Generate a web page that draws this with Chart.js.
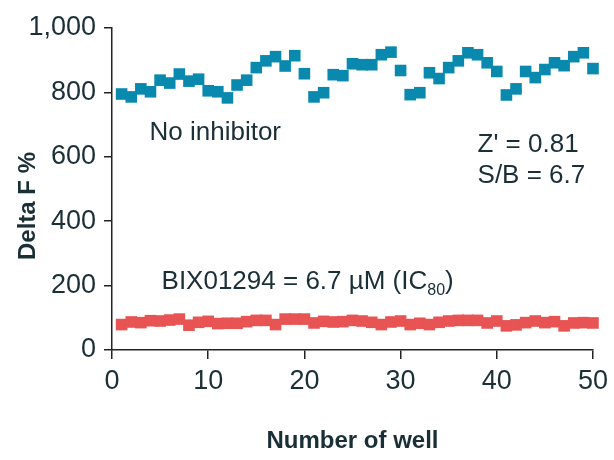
<!DOCTYPE html>
<html>
<head>
<meta charset="utf-8">
<script src="https://cdn.jsdelivr.net/npm/chart.js@4/dist/chart.umd.min.js"></script>
<style>
  html, body { margin: 0; padding: 0; background: #fff; }
  #wrap { width: 614px; height: 460px; }
</style>
</head>
<body>
<div id="wrap"><canvas id="wells"></canvas></div>
<script>
  // well numbers 1..50
  const wells = [
    1, 2, 3, 4, 5, 6, 7, 8, 9, 10, 11, 12, 13, 14, 15, 16, 17, 18, 19, 20,
    21, 22, 23, 24, 25, 26, 27, 28, 29, 30, 31, 32, 33, 34, 35, 36, 37, 38, 39, 40,
    41, 42, 43, 44, 45, 46, 47, 48, 49, 50
  ];
  // Delta F %, no inhibitor
  const noInhibitor = [
    795, 786, 811, 802, 838, 829, 857, 835, 841, 805,
    802, 783, 823, 838, 877, 898, 911, 882, 914, 858,
    786, 799, 855, 852, 889, 886, 886, 917, 925, 868,
    793, 799, 861, 843, 877, 898, 923, 917, 892, 865,
    792, 811, 865, 846, 871, 892, 883, 911, 923, 874
  ];
  // Delta F %, BIX01294 6.7 uM
  const withBIX = [
    79, 87, 85, 91, 90, 93, 96, 77, 86, 89,
    82, 83, 83, 88, 92, 92, 79, 96, 96, 96,
    84, 89, 87, 88, 92, 90, 86, 79, 87, 90,
    79, 83, 79, 86, 90, 92, 92, 92, 84, 90,
    75, 78, 85, 90, 85, 88, 75, 84, 85, 84
  ];
  const xTicks = [0, 10, 20, 30, 40, 50];
  const yTicks = [0, 200, 400, 600, 800, 1000];

  const textColor = "#1b2f36";
  const axisColor = "#222";
  const teal = "#0a89ae";
  const red = "#e85353";
  const fam = "'Liberation Sans', Arial, sans-serif";

  function toPoints(xs, ys) {
    return xs.map((x, i) => ({ x: x, y: ys[i] }));
  }

  // plain text notes placed at data positions, plus the y title
  const notes = {
    id: "notes",
    afterDatasetsDraw(chart) {
      const ctx = chart.ctx;
      const xs = chart.scales.x;
      const ys = chart.scales.y;
      ctx.save();
      ctx.fillStyle = textColor;
      ctx.textBaseline = "middle";
      ctx.textAlign = "left";
      ctx.font = "26px " + fam;
      ctx.fillText("No inhibitor", xs.getPixelForValue(3.9), ys.getPixelForValue(674));
      ctx.fillText("Z' = 0.81", xs.getPixelForValue(38), ys.getPixelForValue(637));
      ctx.fillText("S/B = 6.7", xs.getPixelForValue(38), ys.getPixelForValue(540));
      const bx = xs.getPixelForValue(5.15);
      const by = ys.getPixelForValue(211);
      const main = "BIX01294 = 6.7 \u00b5M (IC";
      ctx.fillText(main, bx, by);
      let w = ctx.measureText(main).width;
      ctx.font = "16px " + fam;
      ctx.fillText("80", bx + w, by + 9);
      w += ctx.measureText("80").width;
      ctx.font = "26px " + fam;
      ctx.fillText(")", bx + w, by);

      ctx.translate(28, 206);
      ctx.rotate(-Math.PI / 2);
      ctx.textAlign = "center";
      ctx.font = "bold 24px " + fam;
      ctx.fillText("Delta F %", 0, 0);
      ctx.restore();
    },
  };

  new Chart(document.getElementById("wells"), {
    type: "scatter",
    data: {
      datasets: [
        {
          label: "No inhibitor",
          data: toPoints(wells, noInhibitor),
          backgroundColor: teal,
          borderWidth: 0,
          pointStyle: "rect",
          pointRadius: 8.2,
          clip: false,
        },
        {
          label: "BIX01294",
          data: toPoints(wells, withBIX),
          backgroundColor: red,
          borderWidth: 0,
          pointStyle: "rect",
          pointRadius: 8.2,
          clip: false,
        },
      ],
    },
    options: {
      responsive: true,
      maintainAspectRatio: false,
      animation: false,
      layout: { padding: { left: 14, right: 17, top: 28, bottom: 4 } },
      plugins: {
        legend: { display: false },
        tooltip: { enabled: false },
      },
      scales: {
        x: {
          type: "linear",
          min: 0,
          max: 50,
          afterBuildTicks: (s) => { s.ticks = xTicks.map((v) => ({ value: v })); },
          afterFit: (s) => { s.height = 106; },
          ticks: {
            color: textColor,
            padding: 6,
            maxRotation: 0,
            font: { family: fam, size: 27 },
          },
          grid: { drawOnChartArea: false, color: axisColor, tickLength: 9, lineWidth: 1.5 },
          border: { color: axisColor, width: 1.5 },
          title: {
            display: true,
            text: "Number of well",
            color: textColor,
            padding: 0,
            font: { family: fam, size: 24, weight: "bold" },
          },
        },
        y: {
          min: 0,
          max: 1000,
          afterBuildTicks: (s) => { s.ticks = yTicks.map((v) => ({ value: v })); },
          afterFit: (s) => { s.width = 98; },
          ticks: {
            color: textColor,
            padding: 8,
            font: { family: fam, size: 27 },
          },
          grid: { drawOnChartArea: false, color: axisColor, tickLength: 8, lineWidth: 1.5 },
          border: { color: axisColor, width: 1.5 },
        },
      },
    },
    plugins: [notes],
  });
</script>
</body>
</html>
